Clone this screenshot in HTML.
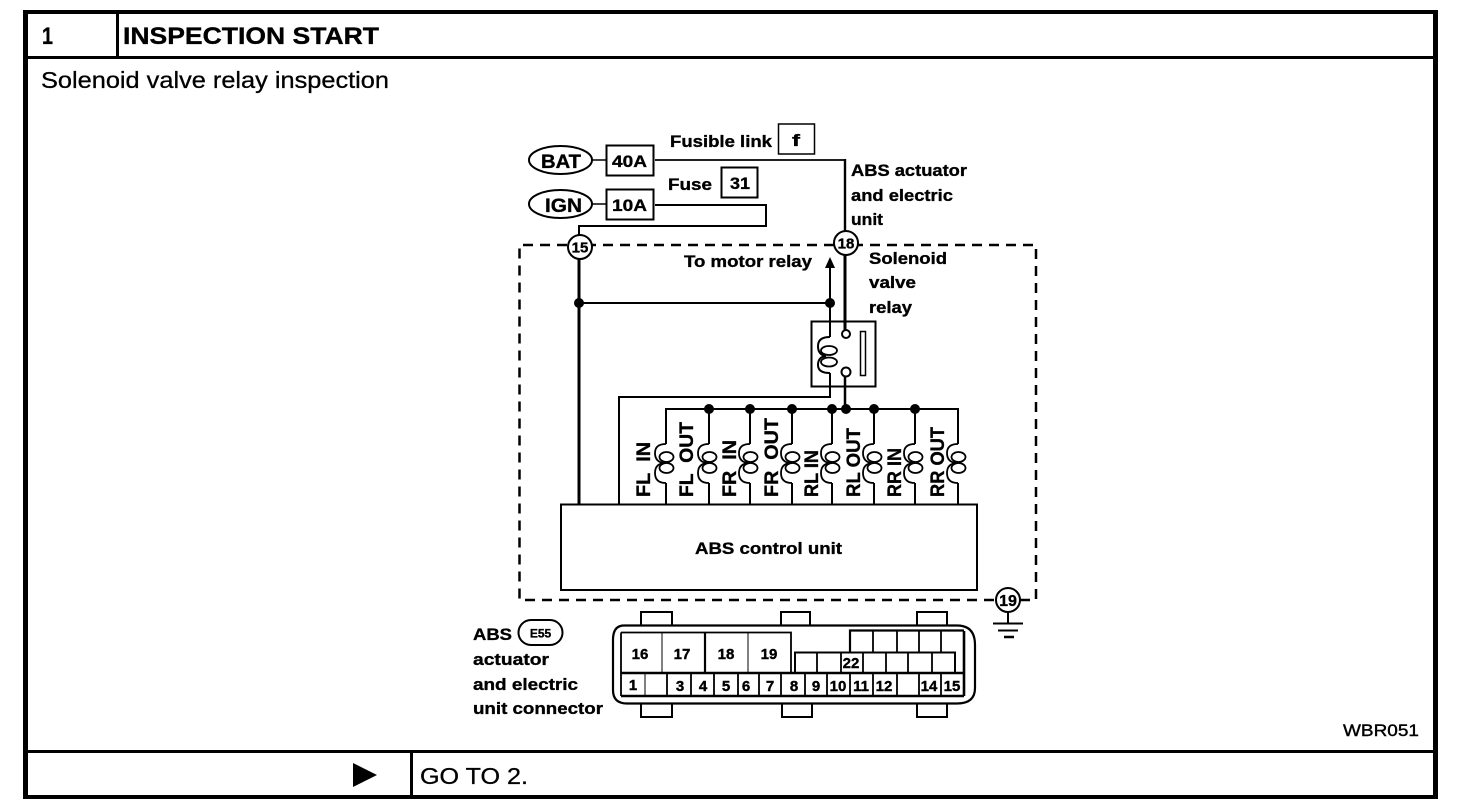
<!DOCTYPE html>
<html lang="en">
<head>
<meta charset="utf-8">
<title>Inspection Start</title>
<style>
html,body{margin:0;padding:0;background:#fff;width:1472px;height:812px;overflow:hidden}
svg{display:block}
text{font-family:"Liberation Sans",Arial,sans-serif;fill:#000}
.b{font-weight:bold;stroke:#000;stroke-width:.35px}
.l{font-weight:bold;font-size:19px;stroke:#000;stroke-width:.35px}
.n{font-weight:bold;font-size:15px;text-anchor:middle;stroke:#000;stroke-width:.4px}
.w{fill:none;stroke:#000}
</style>
</head>
<body>
<svg width="1472" height="812" viewBox="0 0 1472 812" xmlns="http://www.w3.org/2000/svg">
<rect width="1472" height="812" fill="#fff"/>

<!-- frame -->
<g fill="#000" shape-rendering="crispEdges">
<rect x="23" y="10" width="1415" height="4"/>
<rect x="23" y="10" width="5" height="789"/>
<rect x="1433" y="10" width="5" height="789"/>
<rect x="23" y="795" width="1415" height="4"/>
<rect x="23" y="56" width="1415" height="3"/>
<rect x="116" y="10" width="3" height="49"/>
<rect x="23" y="750" width="1415" height="3"/>
<rect x="410" y="750" width="3" height="47"/>
</g>
<text x="42" y="44" class="b" font-size="24" textLength="11" lengthAdjust="spacingAndGlyphs">1</text>
<text x="123" y="44" class="b" font-size="24" textLength="256" lengthAdjust="spacingAndGlyphs">INSPECTION START</text>
<text x="41" y="88" font-size="23" textLength="348" lengthAdjust="spacingAndGlyphs" stroke="#000" stroke-width=".3">Solenoid valve relay inspection</text>
<text x="1343" y="736" font-size="17" textLength="76" lengthAdjust="spacingAndGlyphs" stroke="#000" stroke-width=".4">WBR051</text>
<polygon points="353,763 377,775 353,787" fill="#000"/>
<text x="420" y="784" font-size="23" textLength="108" lengthAdjust="spacingAndGlyphs" stroke="#000" stroke-width=".3">GO TO 2.</text>

<!-- top supply -->
<g class="w">
<ellipse cx="560.5" cy="160" rx="31.5" ry="14" stroke-width="2"/>
<ellipse cx="560.5" cy="204" rx="31.5" ry="14" stroke-width="2"/>
<rect x="606.5" y="145.5" width="47" height="30" stroke-width="2"/>
<rect x="606.5" y="189.5" width="47" height="30" stroke-width="2"/>
<rect x="778.5" y="124" width="36" height="30" stroke-width="1.5"/>
<rect x="721.5" y="167.5" width="36" height="30" stroke-width="2"/>
<path d="M592 160H606M592 204H606" stroke-width="1.5"/>
<path d="M655 160H846" stroke-width="1.8"/>
<path d="M845 159V232" stroke-width="2.4"/>
<path d="M655 205H766V226H579V236" stroke-width="2"/>
</g>
<g class="b" font-size="19">
<text x="541" y="168" textLength="40" lengthAdjust="spacingAndGlyphs">BAT</text>
<text x="545" y="212" textLength="37" lengthAdjust="spacingAndGlyphs">IGN</text>
</g>
<g class="b" font-size="17">
<text x="612" y="167" textLength="35" lengthAdjust="spacingAndGlyphs">40A</text>
<text x="612" y="211" textLength="35" lengthAdjust="spacingAndGlyphs">10A</text>
<text x="792" y="146" textLength="8" lengthAdjust="spacingAndGlyphs">f</text>
<text x="730" y="189" textLength="20" lengthAdjust="spacingAndGlyphs">31</text>
<text x="670" y="147" textLength="102" lengthAdjust="spacingAndGlyphs">Fusible link</text>
<text x="668" y="190" textLength="44" lengthAdjust="spacingAndGlyphs">Fuse</text>
<text x="851" y="176" textLength="116" lengthAdjust="spacingAndGlyphs">ABS actuator</text>
<text x="851" y="201" textLength="102" lengthAdjust="spacingAndGlyphs">and electric</text>
<text x="851" y="225" textLength="32" lengthAdjust="spacingAndGlyphs">unit</text>
<text x="869" y="264" textLength="78" lengthAdjust="spacingAndGlyphs">Solenoid</text>
<text x="869" y="288" textLength="47" lengthAdjust="spacingAndGlyphs">valve</text>
<text x="869" y="313" textLength="43" lengthAdjust="spacingAndGlyphs">relay</text>
<text x="684" y="267" textLength="128" lengthAdjust="spacingAndGlyphs">To motor relay</text>
<text x="695" y="554" textLength="147" lengthAdjust="spacingAndGlyphs">ABS control unit</text>
<text x="473" y="640" textLength="39" lengthAdjust="spacingAndGlyphs">ABS</text>
<text x="473" y="665" textLength="76" lengthAdjust="spacingAndGlyphs">actuator</text>
<text x="473" y="690" textLength="105" lengthAdjust="spacingAndGlyphs">and electric</text>
<text x="473" y="714" textLength="130" lengthAdjust="spacingAndGlyphs">unit connector</text>
</g>

<!-- dashed enclosure -->
<path class="w" d="M567 245H519.5V600H996M1020 600H1036V245H858M834 245H591" stroke-width="2.5" stroke-dasharray="10 7"/>

<!-- wires -->
<g class="w">
<path d="M579 258V504" stroke-width="3"/>
<path d="M845 255V330" stroke-width="3"/>
<path d="M579 303H830" stroke-width="2"/>
<path d="M830 266V337" stroke-width="2"/>
<path d="M830 373V397H619V504" stroke-width="2"/>
<path d="M845 377V409" stroke-width="2.5"/>
<path d="M666 504V483M666 444V409H958V444M958 483V504" stroke-width="2"/>
<path d="M709 409V444M709 483V504M750 409V444M750 483V504M792 409V444M792 483V504M832 409V444M832 483V504M874 409V444M874 483V504M915 409V444M915 483V504" stroke-width="2"/>
<!-- relay -->
<rect x="811.5" y="321.5" width="64" height="65" stroke-width="2"/>
<rect x="860.5" y="331.500" width="5" height="44" stroke-width="1.5"/>
<circle cx="846" cy="334" r="4" stroke-width="2" fill="#fff"/>
<circle cx="846" cy="372" r="4.500" stroke-width="2" fill="#fff"/>
<path d="M830 337Q818 337 818 346Q818 355 826 356Q818 357 818 365Q818 373 830 373" stroke-width="2"/>
<ellipse cx="829" cy="350.500" rx="8" ry="4.500" stroke-width="1.800"/>
<ellipse cx="829" cy="362" rx="8" ry="4.500" stroke-width="1.800"/>
<!-- circles -->
<circle cx="580" cy="247" r="12" fill="#fff" stroke-width="2"/>
<circle cx="846" cy="243" r="12" fill="#fff" stroke-width="2"/>
<circle cx="1008" cy="600" r="12" fill="#fff" stroke-width="2"/>
<path d="M1008 612V623M993 623.500H1023M998 630.500H1018" stroke-width="2"/>
<path d="M1004 637H1014" stroke-width="2.500"/>
<!-- control unit -->
<rect x="561" y="504.500" width="416" height="85.500" stroke-width="2"/>
</g>
<polygon points="830,257 825,268 835,268" fill="#000"/>
<text x="580" y="252.500" class="b" font-size="15" text-anchor="middle">15</text>
<text x="846" y="248.500" class="b" font-size="15" text-anchor="middle">18</text>
<text x="1008" y="606" class="b" font-size="16" text-anchor="middle">19</text>

<!-- dots -->
<g fill="#000">
<circle cx="579" cy="303" r="5"/>
<circle cx="830" cy="303" r="5"/>
<circle cx="709" cy="409" r="5"/>
<circle cx="750" cy="409" r="5"/>
<circle cx="792" cy="409" r="5"/>
<circle cx="832" cy="409" r="5"/>
<circle cx="846" cy="409" r="5"/>
<circle cx="874" cy="409" r="5"/>
<circle cx="915" cy="409" r="5"/>
</g>

<!-- solenoid coils -->
<g class="w" stroke-width="1.800">
<g><path d="M666 444Q655 444 655 453Q655 462 664 463Q655 464 655 473Q655 483 666 483"/><ellipse cx="666.500" cy="457" rx="7" ry="5"/><ellipse cx="666.500" cy="468" rx="7" ry="5"/></g>
<g transform="translate(43 0)"><path d="M666 444Q655 444 655 453Q655 462 664 463Q655 464 655 473Q655 483 666 483"/><ellipse cx="666.500" cy="457" rx="7" ry="5"/><ellipse cx="666.500" cy="468" rx="7" ry="5"/></g>
<g transform="translate(84 0)"><path d="M666 444Q655 444 655 453Q655 462 664 463Q655 464 655 473Q655 483 666 483"/><ellipse cx="666.500" cy="457" rx="7" ry="5"/><ellipse cx="666.500" cy="468" rx="7" ry="5"/></g>
<g transform="translate(126 0)"><path d="M666 444Q655 444 655 453Q655 462 664 463Q655 464 655 473Q655 483 666 483"/><ellipse cx="666.500" cy="457" rx="7" ry="5"/><ellipse cx="666.500" cy="468" rx="7" ry="5"/></g>
<g transform="translate(166 0)"><path d="M666 444Q655 444 655 453Q655 462 664 463Q655 464 655 473Q655 483 666 483"/><ellipse cx="666.500" cy="457" rx="7" ry="5"/><ellipse cx="666.500" cy="468" rx="7" ry="5"/></g>
<g transform="translate(208 0)"><path d="M666 444Q655 444 655 453Q655 462 664 463Q655 464 655 473Q655 483 666 483"/><ellipse cx="666.500" cy="457" rx="7" ry="5"/><ellipse cx="666.500" cy="468" rx="7" ry="5"/></g>
<g transform="translate(249 0)"><path d="M666 444Q655 444 655 453Q655 462 664 463Q655 464 655 473Q655 483 666 483"/><ellipse cx="666.500" cy="457" rx="7" ry="5"/><ellipse cx="666.500" cy="468" rx="7" ry="5"/></g>
<g transform="translate(292 0)"><path d="M666 444Q655 444 655 453Q655 462 664 463Q655 464 655 473Q655 483 666 483"/><ellipse cx="666.500" cy="457" rx="7" ry="5"/><ellipse cx="666.500" cy="468" rx="7" ry="5"/></g>
</g>

<!-- rotated labels -->
<g class="l">
<text transform="translate(650 497) rotate(-90)" textLength="55" lengthAdjust="spacingAndGlyphs">FL&#160;&#160;IN</text>
<text transform="translate(693 497) rotate(-90)" textLength="75" lengthAdjust="spacingAndGlyphs">FL&#160;&#160;OUT</text>
<text transform="translate(736 497) rotate(-90)" textLength="57" lengthAdjust="spacingAndGlyphs">FR&#160;&#160;IN</text>
<text transform="translate(778 497) rotate(-90)" textLength="79" lengthAdjust="spacingAndGlyphs">FR&#160;&#160;OUT</text>
<text transform="translate(818 497) rotate(-90)" textLength="47" lengthAdjust="spacingAndGlyphs">RL IN</text>
<text transform="translate(860 497) rotate(-90)" textLength="69" lengthAdjust="spacingAndGlyphs">RL OUT</text>
<text transform="translate(901 497) rotate(-90)" textLength="49" lengthAdjust="spacingAndGlyphs">RR IN</text>
<text transform="translate(944 497) rotate(-90)" textLength="70" lengthAdjust="spacingAndGlyphs">RR OUT</text>
</g>

<!-- connector -->
<g class="w">
<rect x="518.500" y="620" width="44" height="25" rx="12.500" stroke-width="2"/>
<path d="M641 625V612H672V625M781 625V612H810V625M917 625V612H947V625" stroke-width="2"/>
<path d="M641 704V717H672V704M782 704V717H812V704M917 704V717H947V704" stroke-width="2"/>
<path d="M624 625.500H957Q975 625.500 975 645V688Q975 703.500 957 703.500H627Q613 703.500 613 690V640Q613 625.500 624 625.500Z" stroke-width="2.200"/>
<path d="M621 632.500H791V673M621 632.500V696" stroke-width="1.800"/>
<path d="M621 673H964M621 696H964M964 631V696" stroke-width="2.600"/>
<path d="M705 632V673" stroke-width="2.200"/>
<path d="M662 632V673M748 632V673M645 673V696" stroke-width="1"/>
<path d="M667 673V696M691 673V696M714 673V696M738 673V696M759 673V696M781 673V696M805 673V696M827 673V696M850 673V696M873 673V696M897 673V696M919 673V696M941 673V696" stroke-width="1.800"/>
<path d="M795 673V652.500H955V673" stroke-width="2"/>
<path d="M817 652V673M841 652V673M863 652V673M886 652V673M908 652V673M932 652V673" stroke-width="1.800"/>
<path d="M850 652V630.500H964" stroke-width="2.200"/>
<path d="M873 630V652M897 630V652M919 630V652M941 630V652" stroke-width="1.800"/>
</g>
<text x="540.500" y="637.500" class="b" font-size="12" text-anchor="middle">E55</text>
<g class="n">
<text x="640" y="659">16</text>
<text x="682" y="659">17</text>
<text x="726" y="659">18</text>
<text x="769" y="659">19</text>
<text x="633" y="690">1</text>
<text x="680" y="691">3</text>
<text x="703" y="691">4</text>
<text x="726" y="691">5</text>
<text x="746" y="691">6</text>
<text x="770" y="691">7</text>
<text x="794" y="691">8</text>
<text x="816" y="691">9</text>
<text x="838" y="691">10</text>
<text x="861" y="691">11</text>
<text x="884" y="691">12</text>
<text x="929" y="691">14</text>
<text x="952" y="691">15</text>
<text x="851" y="668">22</text>
</g>
</svg>
</body>
</html>
